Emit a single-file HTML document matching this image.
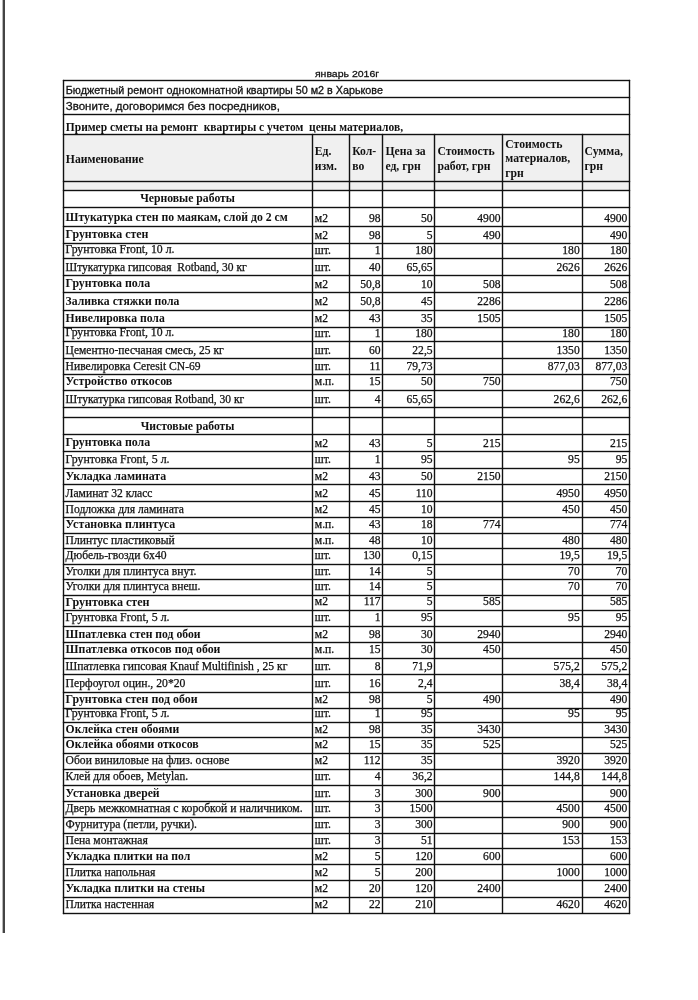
<!DOCTYPE html>
<html><head><meta charset="utf-8"><style>
html,body{margin:0;padding:0;background:#fff;}
body{width:698px;height:1000px;position:relative;overflow:hidden;}
#w{position:absolute;left:0;top:0;width:698px;height:1000px;filter:grayscale(1);}
.l{position:absolute;background:#111;box-shadow:0 0 1px #000,0 0 1px #000;}
.t{position:absolute;white-space:pre;line-height:1;color:#111;}
.r{font-family:"Liberation Serif",serif;font-weight:normal;-webkit-text-stroke:0.25px #111;}
.b{font-family:"Liberation Serif",serif;font-weight:bold;}
.sans{font-family:"Liberation Sans",sans-serif;-webkit-text-stroke:0.3px #111;}
</style></head><body><div id="w">
<div style="position:absolute;left:63.00px;top:134.60px;width:566.60px;height:55.40px;background:#f0f0f0"></div>
<div style="position:absolute;left:2px;top:0;width:1px;height:933px;background:#b8b8b8"></div>
<div style="position:absolute;left:3px;top:0;width:2px;height:933px;background:#444"></div>
<div class="l" style="left:62.50px;top:80.00px;width:567.60px;height:1.0px"></div>
<div class="l" style="left:62.50px;top:97.30px;width:567.60px;height:1.0px"></div>
<div class="l" style="left:62.50px;top:114.30px;width:567.60px;height:1.0px"></div>
<div class="l" style="left:62.50px;top:134.10px;width:567.60px;height:1.0px"></div>
<div class="l" style="left:62.50px;top:180.50px;width:567.60px;height:1.0px"></div>
<div class="l" style="left:62.50px;top:189.50px;width:567.60px;height:1.0px"></div>
<div class="l" style="left:62.50px;top:206.50px;width:567.60px;height:1.0px"></div>
<div class="l" style="left:62.50px;top:226.00px;width:567.60px;height:1.0px"></div>
<div class="l" style="left:62.50px;top:243.00px;width:567.60px;height:1.0px"></div>
<div class="l" style="left:62.50px;top:258.00px;width:567.60px;height:1.0px"></div>
<div class="l" style="left:62.50px;top:275.00px;width:567.60px;height:1.0px"></div>
<div class="l" style="left:62.50px;top:292.00px;width:567.60px;height:1.0px"></div>
<div class="l" style="left:62.50px;top:309.70px;width:567.60px;height:1.0px"></div>
<div class="l" style="left:62.50px;top:326.70px;width:567.60px;height:1.0px"></div>
<div class="l" style="left:62.50px;top:341.00px;width:567.60px;height:1.0px"></div>
<div class="l" style="left:62.50px;top:358.00px;width:567.60px;height:1.0px"></div>
<div class="l" style="left:62.50px;top:374.00px;width:567.60px;height:1.0px"></div>
<div class="l" style="left:62.50px;top:389.80px;width:567.60px;height:1.0px"></div>
<div class="l" style="left:62.50px;top:407.00px;width:567.60px;height:1.0px"></div>
<div class="l" style="left:62.50px;top:417.00px;width:567.60px;height:1.0px"></div>
<div class="l" style="left:62.50px;top:434.00px;width:567.60px;height:1.0px"></div>
<div class="l" style="left:62.50px;top:451.00px;width:567.60px;height:1.0px"></div>
<div class="l" style="left:62.50px;top:467.70px;width:567.60px;height:1.0px"></div>
<div class="l" style="left:62.50px;top:484.30px;width:567.60px;height:1.0px"></div>
<div class="l" style="left:62.50px;top:501.00px;width:567.60px;height:1.0px"></div>
<div class="l" style="left:62.50px;top:517.00px;width:567.60px;height:1.0px"></div>
<div class="l" style="left:62.50px;top:532.50px;width:567.60px;height:1.0px"></div>
<div class="l" style="left:62.50px;top:548.00px;width:567.60px;height:1.0px"></div>
<div class="l" style="left:62.50px;top:563.50px;width:567.60px;height:1.0px"></div>
<div class="l" style="left:62.50px;top:579.00px;width:567.60px;height:1.0px"></div>
<div class="l" style="left:62.50px;top:594.50px;width:567.60px;height:1.0px"></div>
<div class="l" style="left:62.50px;top:609.70px;width:567.60px;height:1.0px"></div>
<div class="l" style="left:62.50px;top:625.70px;width:567.60px;height:1.0px"></div>
<div class="l" style="left:62.50px;top:642.00px;width:567.60px;height:1.0px"></div>
<div class="l" style="left:62.50px;top:657.80px;width:567.60px;height:1.0px"></div>
<div class="l" style="left:62.50px;top:674.00px;width:567.60px;height:1.0px"></div>
<div class="l" style="left:62.50px;top:691.70px;width:567.60px;height:1.0px"></div>
<div class="l" style="left:62.50px;top:707.70px;width:567.60px;height:1.0px"></div>
<div class="l" style="left:62.50px;top:721.70px;width:567.60px;height:1.0px"></div>
<div class="l" style="left:62.50px;top:737.00px;width:567.60px;height:1.0px"></div>
<div class="l" style="left:62.50px;top:752.50px;width:567.60px;height:1.0px"></div>
<div class="l" style="left:62.50px;top:768.70px;width:567.60px;height:1.0px"></div>
<div class="l" style="left:62.50px;top:784.50px;width:567.60px;height:1.0px"></div>
<div class="l" style="left:62.50px;top:801.00px;width:567.60px;height:1.0px"></div>
<div class="l" style="left:62.50px;top:816.70px;width:567.60px;height:1.0px"></div>
<div class="l" style="left:62.50px;top:832.50px;width:567.60px;height:1.0px"></div>
<div class="l" style="left:62.50px;top:848.00px;width:567.60px;height:1.0px"></div>
<div class="l" style="left:62.50px;top:864.10px;width:567.60px;height:1.0px"></div>
<div class="l" style="left:62.50px;top:880.00px;width:567.60px;height:1.0px"></div>
<div class="l" style="left:62.50px;top:896.50px;width:567.60px;height:1.0px"></div>
<div class="l" style="left:62.50px;top:912.50px;width:567.60px;height:1.0px"></div>
<div class="l" style="left:62.50px;top:80.00px;width:1.0px;height:833.50px"></div>
<div class="l" style="left:629.10px;top:80.00px;width:1.0px;height:833.50px"></div>
<div class="l" style="left:311.70px;top:134.10px;width:1.0px;height:779.40px"></div>
<div class="l" style="left:349.20px;top:134.10px;width:1.0px;height:779.40px"></div>
<div class="l" style="left:382.40px;top:134.10px;width:1.0px;height:779.40px"></div>
<div class="l" style="left:434.40px;top:134.10px;width:1.0px;height:779.40px"></div>
<div class="l" style="left:502.30px;top:134.10px;width:1.0px;height:779.40px"></div>
<div class="l" style="left:581.50px;top:134.10px;width:1.0px;height:779.40px"></div>
<div class="t sans" style="left:197.00px;width:300px;top:67.51px;font-size:10.5px;text-align:center;transform:scaleY(0.92);transform-origin:0 8.89px;">январь 2016г</div>
<div class="t sans" style="left:65.80px;top:85.10px;font-size:10.75px;">Бюджетный ремонт однокомнатной квартиры 50 м2 в Харькове</div>
<div class="t sans" style="left:65.80px;top:101.47px;font-size:11.5px;">Звоните, договоримся без посредников,</div>
<div class="t b" style="left:65.80px;top:121.97px;font-size:11.5px;">Пример сметы на ремонт  квартиры с учетом  цены материалов,</div>
<div class="t b" style="left:65.80px;top:154.20px;font-size:11.7px;">Наименование</div>
<div class="t b" style="left:314.70px;top:146.30px;font-size:11.7px;">Ед.</div>
<div class="t b" style="left:314.70px;top:160.60px;font-size:11.7px;">изм.</div>
<div class="t b" style="left:352.20px;top:146.30px;font-size:11.7px;">Кол-</div>
<div class="t b" style="left:352.20px;top:160.60px;font-size:11.7px;">во</div>
<div class="t b" style="left:385.40px;top:146.30px;font-size:11.7px;">Цена за</div>
<div class="t b" style="left:385.40px;top:160.60px;font-size:11.7px;">ед, грн</div>
<div class="t b" style="left:437.40px;top:146.30px;font-size:11.7px;">Стоимость</div>
<div class="t b" style="left:437.40px;top:160.60px;font-size:11.7px;">работ, грн</div>
<div class="t b" style="left:505.30px;top:138.70px;font-size:11.7px;">Стоимость</div>
<div class="t b" style="left:505.30px;top:153.10px;font-size:11.7px;">материалов,</div>
<div class="t b" style="left:505.30px;top:167.50px;font-size:11.7px;">грн</div>
<div class="t b" style="left:584.50px;top:146.30px;font-size:11.7px;">Сумма,</div>
<div class="t b" style="left:584.50px;top:160.60px;font-size:11.7px;">грн</div>
<div class="t b" style="left:37.60px;width:300px;top:193.00px;font-size:11.7px;text-align:center;">Черновые работы</div>
<div class="t b" style="left:65.60px;top:212.45px;font-size:11.76px;">Штукатурка стен по маякам, слой до 2 см</div>
<div class="t r" style="left:314.80px;top:212.59px;font-size:11.6px;">м2</div>
<div class="t r" style="right:317.40px;top:212.59px;font-size:11.6px;text-align:right;">98</div>
<div class="t r" style="right:265.40px;top:212.59px;font-size:11.6px;text-align:right;">50</div>
<div class="t r" style="right:197.50px;top:212.59px;font-size:11.6px;text-align:right;">4900</div>
<div class="t r" style="right:70.70px;top:212.59px;font-size:11.6px;text-align:right;">4900</div>
<div class="t b" style="left:65.60px;top:229.31px;font-size:11.93px;">Грунтовка стен</div>
<div class="t r" style="left:314.80px;top:229.59px;font-size:11.6px;">м2</div>
<div class="t r" style="right:317.40px;top:229.59px;font-size:11.6px;text-align:right;">98</div>
<div class="t r" style="right:265.40px;top:229.59px;font-size:11.6px;text-align:right;">5</div>
<div class="t r" style="right:197.50px;top:229.59px;font-size:11.6px;text-align:right;">490</div>
<div class="t r" style="right:70.70px;top:229.59px;font-size:11.6px;text-align:right;">490</div>
<div class="t r" style="left:65.60px;top:244.45px;font-size:11.76px;">Грунтовка Front, 10 л.</div>
<div class="t r" style="left:314.80px;top:244.59px;font-size:11.6px;">шт.</div>
<div class="t r" style="right:317.40px;top:244.59px;font-size:11.6px;text-align:right;">1</div>
<div class="t r" style="right:265.40px;top:244.59px;font-size:11.6px;text-align:right;">180</div>
<div class="t r" style="right:118.30px;top:244.59px;font-size:11.6px;text-align:right;">180</div>
<div class="t r" style="right:70.70px;top:244.59px;font-size:11.6px;text-align:right;">180</div>
<div class="t r" style="left:65.60px;top:261.65px;font-size:11.52px;">Штукатурка гипсовая&nbsp; Rotband, 30 кг</div>
<div class="t r" style="left:314.80px;top:261.59px;font-size:11.6px;">шт.</div>
<div class="t r" style="right:317.40px;top:261.59px;font-size:11.6px;text-align:right;">40</div>
<div class="t r" style="right:265.40px;top:261.59px;font-size:11.6px;text-align:right;">65,65</div>
<div class="t r" style="right:118.30px;top:261.59px;font-size:11.6px;text-align:right;">2626</div>
<div class="t r" style="right:70.70px;top:261.59px;font-size:11.6px;text-align:right;">2626</div>
<div class="t b" style="left:65.60px;top:278.34px;font-size:11.89px;">Грунтовка пола</div>
<div class="t r" style="left:314.80px;top:278.59px;font-size:11.6px;">м2</div>
<div class="t r" style="right:317.40px;top:278.59px;font-size:11.6px;text-align:right;">50,8</div>
<div class="t r" style="right:265.40px;top:278.59px;font-size:11.6px;text-align:right;">10</div>
<div class="t r" style="right:197.50px;top:278.59px;font-size:11.6px;text-align:right;">508</div>
<div class="t r" style="right:70.70px;top:278.59px;font-size:11.6px;text-align:right;">508</div>
<div class="t b" style="left:65.60px;top:296.20px;font-size:11.7px;">Заливка стяжки пола</div>
<div class="t r" style="left:314.80px;top:296.29px;font-size:11.6px;">м2</div>
<div class="t r" style="right:317.40px;top:296.29px;font-size:11.6px;text-align:right;">50,8</div>
<div class="t r" style="right:265.40px;top:296.29px;font-size:11.6px;text-align:right;">45</div>
<div class="t r" style="right:197.50px;top:296.29px;font-size:11.6px;text-align:right;">2286</div>
<div class="t r" style="right:70.70px;top:296.29px;font-size:11.6px;text-align:right;">2286</div>
<div class="t b" style="left:65.60px;top:313.20px;font-size:11.7px;">Нивелировка пола</div>
<div class="t r" style="left:314.80px;top:313.29px;font-size:11.6px;">м2</div>
<div class="t r" style="right:317.40px;top:313.29px;font-size:11.6px;text-align:right;">43</div>
<div class="t r" style="right:265.40px;top:313.29px;font-size:11.6px;text-align:right;">35</div>
<div class="t r" style="right:197.50px;top:313.29px;font-size:11.6px;text-align:right;">1505</div>
<div class="t r" style="right:70.70px;top:313.29px;font-size:11.6px;text-align:right;">1505</div>
<div class="t r" style="left:65.60px;top:327.47px;font-size:11.74px;">Грунтовка Front, 10 л.</div>
<div class="t r" style="left:314.80px;top:327.59px;font-size:11.6px;">шт.</div>
<div class="t r" style="right:317.40px;top:327.59px;font-size:11.6px;text-align:right;">1</div>
<div class="t r" style="right:265.40px;top:327.59px;font-size:11.6px;text-align:right;">180</div>
<div class="t r" style="right:118.30px;top:327.59px;font-size:11.6px;text-align:right;">180</div>
<div class="t r" style="right:70.70px;top:327.59px;font-size:11.6px;text-align:right;">180</div>
<div class="t r" style="left:65.60px;top:344.64px;font-size:11.53px;">Цементно-песчаная смесь, 25 кг</div>
<div class="t r" style="left:314.80px;top:344.59px;font-size:11.6px;">шт.</div>
<div class="t r" style="right:317.40px;top:344.59px;font-size:11.6px;text-align:right;">60</div>
<div class="t r" style="right:265.40px;top:344.59px;font-size:11.6px;text-align:right;">22,5</div>
<div class="t r" style="right:118.30px;top:344.59px;font-size:11.6px;text-align:right;">1350</div>
<div class="t r" style="right:70.70px;top:344.59px;font-size:11.6px;text-align:right;">1350</div>
<div class="t r" style="left:65.60px;top:360.59px;font-size:11.6px;">Нивелировка Ceresit CN-69</div>
<div class="t r" style="left:314.80px;top:360.59px;font-size:11.6px;">шт.</div>
<div class="t r" style="right:317.40px;top:360.59px;font-size:11.6px;text-align:right;">11</div>
<div class="t r" style="right:265.40px;top:360.59px;font-size:11.6px;text-align:right;">79,73</div>
<div class="t r" style="right:118.30px;top:360.59px;font-size:11.6px;text-align:right;">877,03</div>
<div class="t r" style="right:70.70px;top:360.59px;font-size:11.6px;text-align:right;">877,03</div>
<div class="t b" style="left:65.60px;top:376.08px;font-size:11.96px;">Устройство откосов</div>
<div class="t r" style="left:314.80px;top:376.39px;font-size:11.6px;">м.п.</div>
<div class="t r" style="right:317.40px;top:376.39px;font-size:11.6px;text-align:right;">15</div>
<div class="t r" style="right:265.40px;top:376.39px;font-size:11.6px;text-align:right;">50</div>
<div class="t r" style="right:197.50px;top:376.39px;font-size:11.6px;text-align:right;">750</div>
<div class="t r" style="right:70.70px;top:376.39px;font-size:11.6px;text-align:right;">750</div>
<div class="t r" style="left:65.60px;top:393.63px;font-size:11.55px;">Штукатурка гипсовая Rotband, 30 кг</div>
<div class="t r" style="left:314.80px;top:393.59px;font-size:11.6px;">шт.</div>
<div class="t r" style="right:317.40px;top:393.59px;font-size:11.6px;text-align:right;">4</div>
<div class="t r" style="right:265.40px;top:393.59px;font-size:11.6px;text-align:right;">65,65</div>
<div class="t r" style="right:118.30px;top:393.59px;font-size:11.6px;text-align:right;">262,6</div>
<div class="t r" style="right:70.70px;top:393.59px;font-size:11.6px;text-align:right;">262,6</div>
<div class="t b" style="left:37.60px;width:300px;top:420.50px;font-size:11.7px;text-align:center;">Чистовые работы</div>
<div class="t b" style="left:65.60px;top:437.34px;font-size:11.89px;">Грунтовка пола</div>
<div class="t r" style="left:314.80px;top:437.59px;font-size:11.6px;">м2</div>
<div class="t r" style="right:317.40px;top:437.59px;font-size:11.6px;text-align:right;">43</div>
<div class="t r" style="right:265.40px;top:437.59px;font-size:11.6px;text-align:right;">5</div>
<div class="t r" style="right:197.50px;top:437.59px;font-size:11.6px;text-align:right;">215</div>
<div class="t r" style="right:70.70px;top:437.59px;font-size:11.6px;text-align:right;">215</div>
<div class="t r" style="left:65.60px;top:454.07px;font-size:11.86px;">Грунтовка Front, 5 л.</div>
<div class="t r" style="left:314.80px;top:454.29px;font-size:11.6px;">шт.</div>
<div class="t r" style="right:317.40px;top:454.29px;font-size:11.6px;text-align:right;">1</div>
<div class="t r" style="right:265.40px;top:454.29px;font-size:11.6px;text-align:right;">95</div>
<div class="t r" style="right:118.30px;top:454.29px;font-size:11.6px;text-align:right;">95</div>
<div class="t r" style="right:70.70px;top:454.29px;font-size:11.6px;text-align:right;">95</div>
<div class="t b" style="left:65.60px;top:470.64px;font-size:11.89px;">Укладка ламината</div>
<div class="t r" style="left:314.80px;top:470.89px;font-size:11.6px;">м2</div>
<div class="t r" style="right:317.40px;top:470.89px;font-size:11.6px;text-align:right;">43</div>
<div class="t r" style="right:265.40px;top:470.89px;font-size:11.6px;text-align:right;">50</div>
<div class="t r" style="right:197.50px;top:470.89px;font-size:11.6px;text-align:right;">2150</div>
<div class="t r" style="right:70.70px;top:470.89px;font-size:11.6px;text-align:right;">2150</div>
<div class="t r" style="left:65.60px;top:487.59px;font-size:11.6px;">Ламинат 32 класс</div>
<div class="t r" style="left:314.80px;top:487.59px;font-size:11.6px;">м2</div>
<div class="t r" style="right:317.40px;top:487.59px;font-size:11.6px;text-align:right;">45</div>
<div class="t r" style="right:265.40px;top:487.59px;font-size:11.6px;text-align:right;">110</div>
<div class="t r" style="right:118.30px;top:487.59px;font-size:11.6px;text-align:right;">4950</div>
<div class="t r" style="right:70.70px;top:487.59px;font-size:11.6px;text-align:right;">4950</div>
<div class="t r" style="left:65.60px;top:503.58px;font-size:11.6px;">Подложка для ламината</div>
<div class="t r" style="left:314.80px;top:503.58px;font-size:11.6px;">м2</div>
<div class="t r" style="right:317.40px;top:503.58px;font-size:11.6px;text-align:right;">45</div>
<div class="t r" style="right:265.40px;top:503.58px;font-size:11.6px;text-align:right;">10</div>
<div class="t r" style="right:118.30px;top:503.58px;font-size:11.6px;text-align:right;">450</div>
<div class="t r" style="right:70.70px;top:503.58px;font-size:11.6px;text-align:right;">450</div>
<div class="t b" style="left:65.60px;top:518.78px;font-size:11.96px;">Установка плинтуса</div>
<div class="t r" style="left:314.80px;top:519.08px;font-size:11.6px;">м.п.</div>
<div class="t r" style="right:317.40px;top:519.08px;font-size:11.6px;text-align:right;">43</div>
<div class="t r" style="right:265.40px;top:519.08px;font-size:11.6px;text-align:right;">18</div>
<div class="t r" style="right:197.50px;top:519.08px;font-size:11.6px;text-align:right;">774</div>
<div class="t r" style="right:70.70px;top:519.08px;font-size:11.6px;text-align:right;">774</div>
<div class="t r" style="left:65.60px;top:534.58px;font-size:11.6px;">Плинтус пластиковый</div>
<div class="t r" style="left:314.80px;top:534.58px;font-size:11.6px;">м.п.</div>
<div class="t r" style="right:317.40px;top:534.58px;font-size:11.6px;text-align:right;">48</div>
<div class="t r" style="right:265.40px;top:534.58px;font-size:11.6px;text-align:right;">10</div>
<div class="t r" style="right:118.30px;top:534.58px;font-size:11.6px;text-align:right;">480</div>
<div class="t r" style="right:70.70px;top:534.58px;font-size:11.6px;text-align:right;">480</div>
<div class="t r" style="left:65.60px;top:550.08px;font-size:11.6px;">Дюбель-гвозди 6х40</div>
<div class="t r" style="left:314.80px;top:550.08px;font-size:11.6px;">шт.</div>
<div class="t r" style="right:317.40px;top:550.08px;font-size:11.6px;text-align:right;">130</div>
<div class="t r" style="right:265.40px;top:550.08px;font-size:11.6px;text-align:right;">0,15</div>
<div class="t r" style="right:118.30px;top:550.08px;font-size:11.6px;text-align:right;">19,5</div>
<div class="t r" style="right:70.70px;top:550.08px;font-size:11.6px;text-align:right;">19,5</div>
<div class="t r" style="left:65.60px;top:565.58px;font-size:11.6px;">Уголки для плинтуса внут.</div>
<div class="t r" style="left:314.80px;top:565.58px;font-size:11.6px;">шт.</div>
<div class="t r" style="right:317.40px;top:565.58px;font-size:11.6px;text-align:right;">14</div>
<div class="t r" style="right:265.40px;top:565.58px;font-size:11.6px;text-align:right;">5</div>
<div class="t r" style="right:118.30px;top:565.58px;font-size:11.6px;text-align:right;">70</div>
<div class="t r" style="right:70.70px;top:565.58px;font-size:11.6px;text-align:right;">70</div>
<div class="t r" style="left:65.60px;top:581.08px;font-size:11.6px;">Уголки для плинтуса внеш.</div>
<div class="t r" style="left:314.80px;top:581.08px;font-size:11.6px;">шт.</div>
<div class="t r" style="right:317.40px;top:581.08px;font-size:11.6px;text-align:right;">14</div>
<div class="t r" style="right:265.40px;top:581.08px;font-size:11.6px;text-align:right;">5</div>
<div class="t r" style="right:118.30px;top:581.08px;font-size:11.6px;text-align:right;">70</div>
<div class="t r" style="right:70.70px;top:581.08px;font-size:11.6px;text-align:right;">70</div>
<div class="t b" style="left:65.60px;top:595.88px;font-size:12.08px;">Грунтовка стен</div>
<div class="t r" style="left:314.80px;top:596.28px;font-size:11.6px;">м2</div>
<div class="t r" style="right:317.40px;top:596.28px;font-size:11.6px;text-align:right;">117</div>
<div class="t r" style="right:265.40px;top:596.28px;font-size:11.6px;text-align:right;">5</div>
<div class="t r" style="right:197.50px;top:596.28px;font-size:11.6px;text-align:right;">585</div>
<div class="t r" style="right:70.70px;top:596.28px;font-size:11.6px;text-align:right;">585</div>
<div class="t r" style="left:65.60px;top:612.07px;font-size:11.86px;">Грунтовка Front, 5 л.</div>
<div class="t r" style="left:314.80px;top:612.28px;font-size:11.6px;">шт.</div>
<div class="t r" style="right:317.40px;top:612.28px;font-size:11.6px;text-align:right;">1</div>
<div class="t r" style="right:265.40px;top:612.28px;font-size:11.6px;text-align:right;">95</div>
<div class="t r" style="right:118.30px;top:612.28px;font-size:11.6px;text-align:right;">95</div>
<div class="t r" style="right:70.70px;top:612.28px;font-size:11.6px;text-align:right;">95</div>
<div class="t b" style="left:65.60px;top:628.50px;font-size:11.7px;">Шпатлевка стен под обои</div>
<div class="t r" style="left:314.80px;top:628.58px;font-size:11.6px;">м2</div>
<div class="t r" style="right:317.40px;top:628.58px;font-size:11.6px;text-align:right;">98</div>
<div class="t r" style="right:265.40px;top:628.58px;font-size:11.6px;text-align:right;">30</div>
<div class="t r" style="right:197.50px;top:628.58px;font-size:11.6px;text-align:right;">2940</div>
<div class="t r" style="right:70.70px;top:628.58px;font-size:11.6px;text-align:right;">2940</div>
<div class="t b" style="left:65.60px;top:644.19px;font-size:11.83px;">Шпатлевка откосов под обои</div>
<div class="t r" style="left:314.80px;top:644.38px;font-size:11.6px;">м.п.</div>
<div class="t r" style="right:317.40px;top:644.38px;font-size:11.6px;text-align:right;">15</div>
<div class="t r" style="right:265.40px;top:644.38px;font-size:11.6px;text-align:right;">30</div>
<div class="t r" style="right:197.50px;top:644.38px;font-size:11.6px;text-align:right;">450</div>
<div class="t r" style="right:70.70px;top:644.38px;font-size:11.6px;text-align:right;">450</div>
<div class="t r" style="left:65.60px;top:660.58px;font-size:11.6px;">Шпатлевка гипсовая Knauf Multifinish , 25 кг</div>
<div class="t r" style="left:314.80px;top:660.58px;font-size:11.6px;">шт.</div>
<div class="t r" style="right:317.40px;top:660.58px;font-size:11.6px;text-align:right;">8</div>
<div class="t r" style="right:265.40px;top:660.58px;font-size:11.6px;text-align:right;">71,9</div>
<div class="t r" style="right:118.30px;top:660.58px;font-size:11.6px;text-align:right;">575,2</div>
<div class="t r" style="right:70.70px;top:660.58px;font-size:11.6px;text-align:right;">575,2</div>
<div class="t r" style="left:65.60px;top:678.21px;font-size:11.69px;">Перфоугол оцин., 20*20</div>
<div class="t r" style="left:314.80px;top:678.28px;font-size:11.6px;">шт.</div>
<div class="t r" style="right:317.40px;top:678.28px;font-size:11.6px;text-align:right;">16</div>
<div class="t r" style="right:265.40px;top:678.28px;font-size:11.6px;text-align:right;">2,4</div>
<div class="t r" style="right:118.30px;top:678.28px;font-size:11.6px;text-align:right;">38,4</div>
<div class="t r" style="right:70.70px;top:678.28px;font-size:11.6px;text-align:right;">38,4</div>
<div class="t b" style="left:65.60px;top:694.01px;font-size:11.93px;">Грунтовка стен под обои</div>
<div class="t r" style="left:314.80px;top:694.28px;font-size:11.6px;">м2</div>
<div class="t r" style="right:317.40px;top:694.28px;font-size:11.6px;text-align:right;">98</div>
<div class="t r" style="right:265.40px;top:694.28px;font-size:11.6px;text-align:right;">5</div>
<div class="t r" style="right:197.50px;top:694.28px;font-size:11.6px;text-align:right;">490</div>
<div class="t r" style="right:70.70px;top:694.28px;font-size:11.6px;text-align:right;">490</div>
<div class="t r" style="left:65.60px;top:708.07px;font-size:11.86px;">Грунтовка Front, 5 л.</div>
<div class="t r" style="left:314.80px;top:708.28px;font-size:11.6px;">шт.</div>
<div class="t r" style="right:317.40px;top:708.28px;font-size:11.6px;text-align:right;">1</div>
<div class="t r" style="right:265.40px;top:708.28px;font-size:11.6px;text-align:right;">95</div>
<div class="t r" style="right:118.30px;top:708.28px;font-size:11.6px;text-align:right;">95</div>
<div class="t r" style="right:70.70px;top:708.28px;font-size:11.6px;text-align:right;">95</div>
<div class="t b" style="left:65.60px;top:723.50px;font-size:11.7px;">Оклейка стен обоями</div>
<div class="t r" style="left:314.80px;top:723.58px;font-size:11.6px;">м2</div>
<div class="t r" style="right:317.40px;top:723.58px;font-size:11.6px;text-align:right;">98</div>
<div class="t r" style="right:265.40px;top:723.58px;font-size:11.6px;text-align:right;">35</div>
<div class="t r" style="right:197.50px;top:723.58px;font-size:11.6px;text-align:right;">3430</div>
<div class="t r" style="right:70.70px;top:723.58px;font-size:11.6px;text-align:right;">3430</div>
<div class="t b" style="left:65.60px;top:738.90px;font-size:11.82px;">Оклейка обоями откосов</div>
<div class="t r" style="left:314.80px;top:739.08px;font-size:11.6px;">м2</div>
<div class="t r" style="right:317.40px;top:739.08px;font-size:11.6px;text-align:right;">15</div>
<div class="t r" style="right:265.40px;top:739.08px;font-size:11.6px;text-align:right;">35</div>
<div class="t r" style="right:197.50px;top:739.08px;font-size:11.6px;text-align:right;">525</div>
<div class="t r" style="right:70.70px;top:739.08px;font-size:11.6px;text-align:right;">525</div>
<div class="t r" style="left:65.60px;top:755.28px;font-size:11.6px;">Обои виниловые на флиз. основе</div>
<div class="t r" style="left:314.80px;top:755.28px;font-size:11.6px;">м2</div>
<div class="t r" style="right:317.40px;top:755.28px;font-size:11.6px;text-align:right;">112</div>
<div class="t r" style="right:265.40px;top:755.28px;font-size:11.6px;text-align:right;">35</div>
<div class="t r" style="right:118.30px;top:755.28px;font-size:11.6px;text-align:right;">3920</div>
<div class="t r" style="right:70.70px;top:755.28px;font-size:11.6px;text-align:right;">3920</div>
<div class="t r" style="left:65.60px;top:771.15px;font-size:11.52px;">Клей для обоев, Metylan.</div>
<div class="t r" style="left:314.80px;top:771.08px;font-size:11.6px;">шт.</div>
<div class="t r" style="right:317.40px;top:771.08px;font-size:11.6px;text-align:right;">4</div>
<div class="t r" style="right:265.40px;top:771.08px;font-size:11.6px;text-align:right;">36,2</div>
<div class="t r" style="right:118.30px;top:771.08px;font-size:11.6px;text-align:right;">144,8</div>
<div class="t r" style="right:70.70px;top:771.08px;font-size:11.6px;text-align:right;">144,8</div>
<div class="t b" style="left:65.60px;top:787.50px;font-size:11.7px;">Установка дверей</div>
<div class="t r" style="left:314.80px;top:787.58px;font-size:11.6px;">шт.</div>
<div class="t r" style="right:317.40px;top:787.58px;font-size:11.6px;text-align:right;">3</div>
<div class="t r" style="right:265.40px;top:787.58px;font-size:11.6px;text-align:right;">300</div>
<div class="t r" style="right:197.50px;top:787.58px;font-size:11.6px;text-align:right;">900</div>
<div class="t r" style="right:70.70px;top:787.58px;font-size:11.6px;text-align:right;">900</div>
<div class="t r" style="left:65.60px;top:803.18px;font-size:11.72px;">Дверь межкомнатная с коробкой и наличником.</div>
<div class="t r" style="left:314.80px;top:803.28px;font-size:11.6px;">шт.</div>
<div class="t r" style="right:317.40px;top:803.28px;font-size:11.6px;text-align:right;">3</div>
<div class="t r" style="right:265.40px;top:803.28px;font-size:11.6px;text-align:right;">1500</div>
<div class="t r" style="right:118.30px;top:803.28px;font-size:11.6px;text-align:right;">4500</div>
<div class="t r" style="right:70.70px;top:803.28px;font-size:11.6px;text-align:right;">4500</div>
<div class="t r" style="left:65.60px;top:819.08px;font-size:11.6px;">Фурнитура (петли, ручки).</div>
<div class="t r" style="left:314.80px;top:819.08px;font-size:11.6px;">шт.</div>
<div class="t r" style="right:317.40px;top:819.08px;font-size:11.6px;text-align:right;">3</div>
<div class="t r" style="right:265.40px;top:819.08px;font-size:11.6px;text-align:right;">300</div>
<div class="t r" style="right:118.30px;top:819.08px;font-size:11.6px;text-align:right;">900</div>
<div class="t r" style="right:70.70px;top:819.08px;font-size:11.6px;text-align:right;">900</div>
<div class="t r" style="left:65.60px;top:834.58px;font-size:11.6px;">Пена монтажная</div>
<div class="t r" style="left:314.80px;top:834.58px;font-size:11.6px;">шт.</div>
<div class="t r" style="right:317.40px;top:834.58px;font-size:11.6px;text-align:right;">3</div>
<div class="t r" style="right:265.40px;top:834.58px;font-size:11.6px;text-align:right;">51</div>
<div class="t r" style="right:118.30px;top:834.58px;font-size:11.6px;text-align:right;">153</div>
<div class="t r" style="right:70.70px;top:834.58px;font-size:11.6px;text-align:right;">153</div>
<div class="t b" style="left:65.60px;top:850.60px;font-size:11.7px;">Укладка плитки на пол</div>
<div class="t r" style="left:314.80px;top:850.68px;font-size:11.6px;">м2</div>
<div class="t r" style="right:317.40px;top:850.68px;font-size:11.6px;text-align:right;">5</div>
<div class="t r" style="right:265.40px;top:850.68px;font-size:11.6px;text-align:right;">120</div>
<div class="t r" style="right:197.50px;top:850.68px;font-size:11.6px;text-align:right;">600</div>
<div class="t r" style="right:70.70px;top:850.68px;font-size:11.6px;text-align:right;">600</div>
<div class="t r" style="left:65.60px;top:866.58px;font-size:11.6px;">Плитка напольная</div>
<div class="t r" style="left:314.80px;top:866.58px;font-size:11.6px;">м2</div>
<div class="t r" style="right:317.40px;top:866.58px;font-size:11.6px;text-align:right;">5</div>
<div class="t r" style="right:265.40px;top:866.58px;font-size:11.6px;text-align:right;">200</div>
<div class="t r" style="right:118.30px;top:866.58px;font-size:11.6px;text-align:right;">1000</div>
<div class="t r" style="right:70.70px;top:866.58px;font-size:11.6px;text-align:right;">1000</div>
<div class="t b" style="left:65.60px;top:882.88px;font-size:11.85px;">Укладка плитки на стены</div>
<div class="t r" style="left:314.80px;top:883.08px;font-size:11.6px;">м2</div>
<div class="t r" style="right:317.40px;top:883.08px;font-size:11.6px;text-align:right;">20</div>
<div class="t r" style="right:265.40px;top:883.08px;font-size:11.6px;text-align:right;">120</div>
<div class="t r" style="right:197.50px;top:883.08px;font-size:11.6px;text-align:right;">2400</div>
<div class="t r" style="right:70.70px;top:883.08px;font-size:11.6px;text-align:right;">2400</div>
<div class="t r" style="left:65.60px;top:899.08px;font-size:11.6px;">Плитка настенная</div>
<div class="t r" style="left:314.80px;top:899.08px;font-size:11.6px;">м2</div>
<div class="t r" style="right:317.40px;top:899.08px;font-size:11.6px;text-align:right;">22</div>
<div class="t r" style="right:265.40px;top:899.08px;font-size:11.6px;text-align:right;">210</div>
<div class="t r" style="right:118.30px;top:899.08px;font-size:11.6px;text-align:right;">4620</div>
<div class="t r" style="right:70.70px;top:899.08px;font-size:11.6px;text-align:right;">4620</div>
</div></body></html>
